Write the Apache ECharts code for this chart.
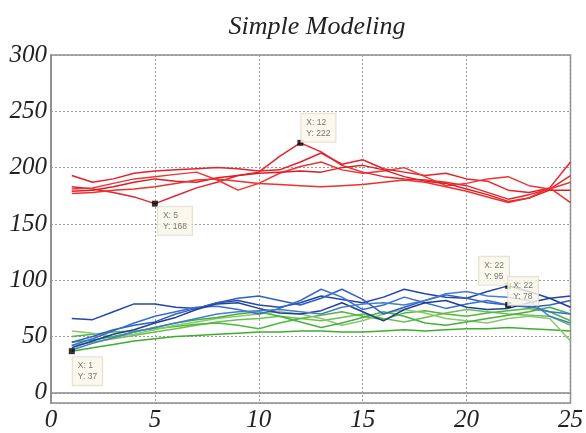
<!DOCTYPE html>
<html>
<head>
<meta charset="utf-8">
<script src="https://cdn.jsdelivr.net/npm/echarts@6/dist/echarts.min.js"></script>
<style>html,body{margin:0;padding:0;background:#fff}#c{width:586px;height:433px}</style>
</head>
<body>
<div id="c"></div>
<script>
// ---- data ----
const xValues = [1,2,3,4,5,6,7,8,9,10,11,12,13,14,15,16,17,18,19,20,21,22,23,24,25];
const xTicks = [0,5,10,15,20,25];
const yTicks = [0,50,100,150,200,250,300];

const red1 = [193,187,190,195,197,198,199,200,199,197,198,205,213,203,207,199,196,193,195,190,188,180,178,182,205];
const red2 = [183,181,178,174,168,175,182,187,193,196,210,222,214,202,196,192,190,189,187,184,178,172,176,181,193];
const red3 = [181,182,186,190,192,194,196,189,180,186,195,201,205,198,195,197,200,192,184,186,190,192,184,181,187];
const red4 = [179,180,183,187,190,188,187,191,193,195,196,197,196,200,202,198,192,188,186,181,176,170,173,180,180];
const red5 = [177,178,180,181,183,186,189,190,188,186,185,184,183,184,185,187,189,187,183,179,174,169,173,182,169];

const blue1 = [66,65,72,79,79,76,75,80,82,78,76,80,86,83,80,85,92,88,85,84,90,95,90,84,86];
const blue2 = [45,50,56,60,63,70,75,80,84,86,82,78,84,92,83,70,76,82,87,84,80,78,76,78,82];
const blue3 = [42,48,55,62,68,72,76,77,74,70,75,82,92,85,74,78,85,80,75,79,82,78,77,72,70];
const blue4 = [40,46,52,56,62,67,74,79,80,75,71,70,73,80,72,64,74,80,82,76,74,75,80,84,76];
const blue5 = [38,44,49,54,58,62,66,70,72,73,74,72,70,76,79,80,78,82,88,90,86,85,82,68,62];

const green1 = [37,40,43,46,48,50,51,52,53,54,54,55,55,54,54,55,56,55,56,57,57,58,57,56,55];
const green2 = [42,45,48,51,54,57,60,63,65,66,68,66,64,67,70,66,63,67,71,74,72,70,69,68,60];
const green3 = [50,52,54,55,57,59,61,62,60,57,62,66,69,72,68,65,71,73,70,68,71,73,75,72,64];
const green4 = [55,53,50,52,56,60,63,66,68,70,72,70,66,60,64,70,74,71,66,64,62,66,68,66,46];
const green5 = [45,47,50,54,58,62,65,67,70,72,68,63,58,62,67,72,68,62,60,63,66,69,72,76,70];

const tipX = [1,5,12,22,22];
const tipY = [37,168,222,95,78];

// ---- styles ----
const redSeries = [red1,red2,red3,red4,red5];
const blueSeries = [blue1,blue2,blue3,blue4,blue5];
const greenSeries = [green1,green2,green3,green4,green5];
const redColors = ['#e8202a','#e3262e','#ee3535','#d91e25','#f0302f'];
const blueColors = ['#2346a8','#3060c0','#3a6dd0','#1f3f9a','#4a7ccc'];
const greenColors = ['#3fae2f','#6cc050','#52b83c','#8ac870','#48b040'];
// label box offsets (relative to symbol box) for each data tip
const tipOffsets = [[4,9],[6,6],[4,-26],[-26,-26],[3,-25]];

const series = [];
function addGroup(arrs, colors){
  arrs.forEach((arr,i)=>{
    series.push({
      type:'line', data: xValues.map((x,j)=>[x,arr[j]]),
      showSymbol:false, symbol:'none', silent:true,
      lineStyle:{color:colors[i], width:1.5}, z:2
    });
  });
}
addGroup(greenSeries, greenColors);
addGroup(blueSeries, blueColors);
addGroup(redSeries, redColors);

series.push({
  type:'scatter', symbol:'rect', symbolSize:6, z:5,
  itemStyle:{color:'#000'},
  data: tipX.map((x,i)=>({
    value:[x, tipY[i]],
    label:{
      show:true, position: tipOffsets[i], align:'left', verticalAlign:'top',
      formatter: 'X: ' + x + '\nY: ' + tipY[i],
      fontFamily:'Arial, "Liberation Sans"', fontSize:8.5, lineHeight:11, color:'#555',
      backgroundColor:'#faf7ea', borderColor:'#dedacb', borderWidth:1, padding:[3,5,3,5]
    }
  }))
});

const serifFamily = '"Liberation Serif", "Times New Roman", serif';
const labelFont = {fontFamily:serifFamily, fontStyle:'italic', fontWeight:'normal', fontSize:25, color:'#222'};

const option = {
  animation:false,
  backgroundColor:'#fff',
  title:{
    text:'Simple Modeling', left:312, textAlign:'center', top:9,
    textStyle:{fontFamily:serifFamily, fontStyle:'italic', fontWeight:'normal', fontSize:26, color:'#222'}
  },
  grid:{left:51, right:12, top:55, bottom:30, show:true, borderColor:'#8a8a8a', borderWidth:1.5, containLabel:false},
  xAxis:{
    type:'value', min:xTicks[0], max:xTicks[xTicks.length-1], interval:5,
    axisLine:{show:true, lineStyle:{color:'#8a8a8a', width:1.5}},
    axisTick:{show:false},
    axisLabel:Object.assign({margin:5}, labelFont),
    splitLine:{show:true, lineStyle:{type:[2,2], color:'#9a9a9a', width:1}}
  },
  yAxis:{
    type:'value', min:-9, max:yTicks[yTicks.length-1], splitNumber:6,
    axisLine:{show:true, lineStyle:{color:'#8a8a8a', width:1.5}},
    axisTick:{show:false},
    axisLabel:Object.assign({margin:4, showMinLabel:true, formatter:function(v){return yTicks.indexOf(v)>=0 ? String(v) : '';}}, labelFont),
    splitLine:{show:true, lineStyle:{type:[2,2], color:'#9a9a9a', width:1}}
  },
  series: series
};
echarts.init(document.getElementById('c'), null, {renderer:'canvas'}).setOption(option);
</script>
</body>
</html>
